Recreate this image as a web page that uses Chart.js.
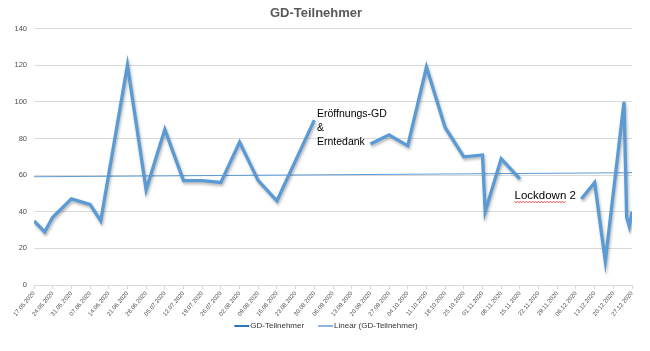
<!DOCTYPE html>
<html>
<head>
<meta charset="utf-8">
<script src="https://cdn.jsdelivr.net/npm/chart.js@4.4.0/dist/chart.umd.min.js"></script>
<style>
  html, body { margin: 0; padding: 0; background: #fff; }
</style>
</head>
<body>
<canvas id="chart" width="650" height="351"></canvas>
<script>
const chartTitle = 'GD-Teilnehmer';
const seriesName = 'GD-Teilnehmer';
const trendName = 'Linear (GD-Teilnehmer)';

// service dates and attendance; null = break in the line
const pointDates = [
  '17.05.2020', '21.05.2020', '24.05.2020', '31.05.2020', '07.06.2020', '11.06.2020',
  '21.06.2020', '28.06.2020', '05.07.2020', '12.07.2020', '19.07.2020', '26.07.2020',
  '02.08.2020', '09.08.2020', '16.08.2020', '30.08.2020', '06.09.2020', '20.09.2020',
  '27.09.2020', '04.10.2020', '11.10.2020', '18.10.2020', '25.10.2020', '01.11.2020',
  '02.11.2020', '08.11.2020', '15.11.2020', '22.11.2020', '08.12.2020', '13.12.2020',
  '17.12.2020', '24.12.2020', '25.12.2020', '26.12.2020', '27.12.2020'
];
const participants = [
  35, 29, 37, 47, 44, 35,
  120, 52, 85, 57, 57, 56,
  78, 57, 46, 90, null, 77,
  82, 76, 119, 86, 70, 71,
  40, 69, 58, null, 47, 56,
  13, 100, 37, 32, 40
];

const trendDates = ['17.05.2020', '27.12.2020'];
const trendValues = [59.1, 61.3];

const tickLabels = [
  '17.05.2020', '24.05.2020', '31.05.2020', '07.06.2020', '14.06.2020', '21.06.2020',
  '28.06.2020', '05.07.2020', '12.07.2020', '19.07.2020', '26.07.2020', '02.08.2020',
  '09.08.2020', '16.08.2020', '23.08.2020', '30.08.2020', '06.09.2020', '13.09.2020',
  '20.09.2020', '27.09.2020', '04.10.2020', '11.10.2020', '18.10.2020', '25.10.2020',
  '01.11.2020', '08.11.2020', '15.11.2020', '22.11.2020', '29.11.2020', '06.12.2020',
  '13.12.2020', '20.12.2020', '27.12.2020'
];

const noteList = [
  { lines: ['Eröffnungs-GD', '&', 'Erntedank'], date: '31.08.2020', value: 93.3, size: 10.5, lineHeight: 13.8 },
  { lines: ['Lockdown 2'], date: '13.11.2020', value: 48.7, size: 11.5, lineHeight: 14, squiggle: 'Lockdown' }
];

const legendItems = [
  { text: seriesName, color: '#2E75B6' },
  { text: trendName, color: '#8DB4E2' }
];

const startDay = Date.UTC(2020, 4, 17);
function dayOf(s) {
  const [d, m, y] = s.split('.').map(Number);
  return Math.round((Date.UTC(y, m - 1, d) - startDay) / 86400000);
}

const lineShadow = {
  id: 'lineShadow',
  beforeDatasetDraw(chart, args) {
    if (args.index !== 0) return;
    const ctx = chart.ctx;
    ctx.save();
    ctx.shadowColor = 'rgba(0,0,0,0.3)';
    ctx.shadowBlur = 3;
    ctx.shadowOffsetX = 1;
    ctx.shadowOffsetY = 2;
  },
  afterDatasetDraw(chart, args) {
    if (args.index !== 0) return;
    chart.ctx.restore();
  }
};

const notes = {
  id: 'notes',
  afterDatasetsDraw(chart) {
    const {ctx, scales: {x, y}} = chart;
    ctx.save();
    ctx.fillStyle = '#000';
    ctx.textBaseline = 'middle';
    ctx.textAlign = 'left';
    noteList.forEach((n) => {
      ctx.font = n.size + "px 'Liberation Sans', Arial, sans-serif";
      const px = x.getPixelForValue(dayOf(n.date));
      const py = y.getPixelForValue(n.value);
      n.lines.forEach((t, i) => ctx.fillText(t, px, py + i * n.lineHeight));
      if (n.squiggle) {
        // spell-check underline as in the original screenshot
        const w = ctx.measureText(n.squiggle).width;
        const base = py + n.size * 0.5;
        ctx.strokeStyle = '#e02020';
        ctx.lineWidth = 0.8;
        ctx.beginPath();
        for (let k = 0; k <= w; k += 1.5) {
          const yy = base + ((Math.round(k / 1.5) % 2) ? 1 : 0);
          if (k === 0) ctx.moveTo(px + k, yy); else ctx.lineTo(px + k, yy);
        }
        ctx.stroke();
      }
    });
    ctx.restore();
  }
};

// Excel-like legend under the axis labels
const bottomLegend = {
  id: 'bottomLegend',
  afterDraw(chart) {
    const ctx = chart.ctx;
    const lineW = 15, textGap = 1, itemGap = 14;
    ctx.save();
    ctx.font = "8px 'Liberation Sans', Arial, sans-serif";
    ctx.textBaseline = 'middle';
    const widths = legendItems.map((it) => lineW + textGap + ctx.measureText(it.text).width);
    const total = widths.reduce((a, b) => a + b, 0) + itemGap * (legendItems.length - 1);
    let cx = (chart.width - total) / 2 + 1;
    const cy = chart.height - 25;
    legendItems.forEach((it, i) => {
      ctx.fillStyle = it.color;
      ctx.fillRect(cx, cy - 1, lineW, 2);
      ctx.fillStyle = '#333333';
      ctx.fillText(it.text, cx + lineW + textGap, cy);
      cx += widths[i] + itemGap;
    });
    ctx.restore();
  }
};

const grey = '#595959';
Chart.defaults.font.family = "'Liberation Sans', Arial, sans-serif";
Chart.defaults.color = grey;

new Chart(document.getElementById('chart'), {
  type: 'line',
  data: {
    datasets: [{
      label: seriesName,
      data: pointDates.map((d, i) => ({x: dayOf(d), y: participants[i]})),
      borderColor: '#5B9BD5',
      borderWidth: 3.3,
      borderJoinStyle: 'miter',
      pointRadius: 0,
      tension: 0,
      spanGaps: false,
      fill: false
    }, {
      label: trendName,
      data: trendDates.map((d, i) => ({x: dayOf(d), y: trendValues[i]})),
      borderColor: '#5B9BD5',
      borderWidth: 1,
      pointRadius: 0,
      fill: false
    }]
  },
  options: {
    responsive: false,
    animation: false,
    layout: { padding: { left: 0, right: 18, top: 0, bottom: 33 } },
    scales: {
      x: {
        type: 'linear',
        min: 0,
        max: 224,
        afterFit: (scale) => { scale.height = 33; },
        grid: { drawOnChartArea: false, color: '#D9D9D9', tickLength: 4 },
        border: { color: '#D9D9D9' },
        ticks: {
          stepSize: 7,
          maxTicksLimit: 40,
          autoSkip: false,
          minRotation: 50,
          maxRotation: 50,
          padding: 1,
          color: '#4d4d4d',
          font: { size: 6 },
          callback: (v) => tickLabels[Math.round(v / 7)] || ''
        }
      },
      y: {
        min: 0,
        max: 140,
        afterFit: (scale) => { scale.width = 34; },
        grid: { color: '#D9D9D9', drawTicks: false },
        border: { display: false },
        ticks: { stepSize: 20, padding: 7, color: '#4d4d4d', font: { size: 7.5 } }
      }
    },
    plugins: {
      title: {
        display: true,
        text: chartTitle,
        color: grey,
        font: { size: 13, weight: 'bold' },
        padding: { top: 6, bottom: 7 }
      },
      legend: { display: false },
      tooltip: { enabled: false }
    }
  },
  plugins: [lineShadow, notes, bottomLegend]
});
</script>
</body>
</html>
